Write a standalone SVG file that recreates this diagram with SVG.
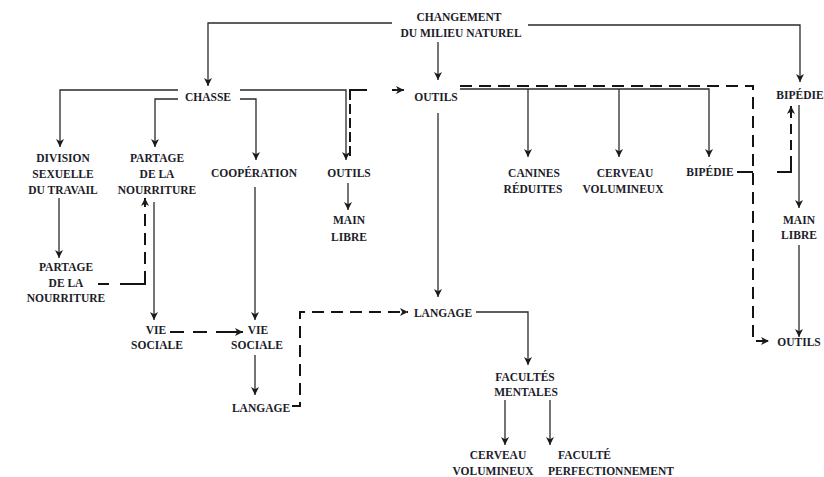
<svg xmlns="http://www.w3.org/2000/svg" width="824" height="477" viewBox="0 0 824 477">
  <defs>
    <marker id="arrow" markerUnits="userSpaceOnUse" markerWidth="9" markerHeight="9" refX="8" refY="4" orient="auto">
      <path d="M0,0 L8,4 L0,8 L2.2,4 z" fill="#1a1a1a"/>
    </marker>
    <style>
      text { font-family: "Liberation Serif", "Times New Roman", serif; font-size: 11.5px; font-weight: bold; fill: #1c1c2a; text-anchor: middle; }
      .solid { fill: none; stroke: #2a2a2a; stroke-width: 1.3; }
      .dash { fill: none; stroke: #141414; stroke-width: 2; stroke-dasharray: 12 7; }
      .arr { marker-end: url(#arrow); }
    </style>
  </defs>
  <rect width="824" height="477" fill="#ffffff"/>

  <!-- connectors -->
  <g id="connectors">
    <!-- from CHANGEMENT DU MILIEU NATUREL -->
    <path class="solid arr" d="M392,23 H208 V86"/>
    <path class="solid arr" d="M528,25 H800 V82"/>
    <path class="solid arr" d="M438,42 V80"/>

    <!-- from CHASSE -->
    <path class="solid arr" d="M178,90 H60 V147"/>
    <path class="solid arr" d="M178,99 H155 V147"/>
    <path class="solid arr" d="M240,99 H256 V160"/>
    <path class="solid arr" d="M240,90 H346 V160"/>
    <path class="dash" style="stroke-dasharray: 10 4 10 4 10 4 10 4 27 25 12" d="M350,156 V90 H404"/>
    <path class="solid arr" style="stroke-width:1.6" d="M396,90 H404"/>

    <!-- from OUTILS (top) -->
    <path class="dash arr" d="M460,86 H753 V341 H769"/>
    <path class="solid arr" d="M460,89 H709 V157"/>
    <path class="solid arr" d="M528,89 V157"/>
    <path class="solid arr" d="M619,89 V157"/>
    <path class="solid arr" d="M438,113 V297"/>

    <!-- BIPÉDIE column -->
    <path class="dash arr" style="stroke-dasharray: 16 24 30 6 10 6 10 6 12" d="M737,172 H791 V106"/>
    <path class="solid arr" d="M799,105 V208"/>
    <path class="solid arr" d="M799,245 V337"/>

    <!-- left branches -->
    <path class="solid arr" d="M59,198 V258"/>
    <path class="dash arr" style="stroke-dasharray: 11 11 38 7 12 7 12 7 12 7 9" d="M98,284 H145 V198"/>
    <path class="solid arr" d="M154,202 V320"/>
    <path class="dash arr" style="stroke-dasharray: 14 9 14 9 27" d="M170,332 H243"/>
    <path class="solid arr" d="M255,187 V320"/>
    <path class="solid arr" d="M255,355 V395"/>
    <path class="solid arr" d="M348,183 V210"/>
    <path class="dash arr" d="M292,406 H300 V312 H408"/>

    <!-- LANGAGE and FACULTÉS MENTALES -->
    <path class="solid arr" d="M476,312 H528 V365"/>
    <path class="solid arr" d="M505,400 V445"/>
    <path class="solid arr" d="M550,400 V445"/>
  </g>

  <!-- nodes -->
  <g id="changement">
    <text x="459" y="21">CHANGEMENT</text>
    <text x="461" y="37">DU MILIEU NATUREL</text>
  </g>
  <g id="chasse"><text x="208" y="101">CHASSE</text></g>
  <g id="outils-top"><text x="436" y="101">OUTILS</text></g>
  <g id="bipedie-right"><text x="800" y="99">BIPÉDIE</text></g>

  <g id="division">
    <text x="63" y="162">DIVISION</text>
    <text x="63" y="178">SEXUELLE</text>
    <text x="63" y="194">DU TRAVAIL</text>
  </g>
  <g id="partage-top">
    <text x="157" y="162">PARTAGE</text>
    <text x="157" y="178">DE LA</text>
    <text x="157" y="194">NOURRITURE</text>
  </g>
  <g id="cooperation"><text x="254" y="177">COOPÉRATION</text></g>
  <g id="outils-chasse"><text x="349" y="177">OUTILS</text></g>
  <g id="main-libre-left">
    <text x="349" y="224">MAIN</text>
    <text x="349" y="241">LIBRE</text>
  </g>

  <g id="canines">
    <text x="534" y="177">CANINES</text>
    <text x="533" y="193">RÉDUITES</text>
  </g>
  <g id="cerveau-top">
    <text x="625" y="177">CERVEAU</text>
    <text x="623" y="193">VOLUMINEUX</text>
  </g>
  <g id="bipedie-mid"><text x="710" y="176">BIPÉDIE</text></g>
  <g id="main-libre-right">
    <text x="799" y="224">MAIN</text>
    <text x="799" y="239">LIBRE</text>
  </g>
  <g id="outils-right"><text x="799" y="346">OUTILS</text></g>

  <g id="partage-bottom">
    <text x="66" y="271">PARTAGE</text>
    <text x="66" y="287">DE LA</text>
    <text x="66" y="302">NOURRITURE</text>
  </g>
  <g id="vie-sociale-1">
    <text x="156" y="334">VIE</text>
    <text x="157" y="349">SOCIALE</text>
  </g>
  <g id="vie-sociale-2">
    <text x="258" y="334">VIE</text>
    <text x="257" y="349">SOCIALE</text>
  </g>
  <g id="langage-left"><text x="261" y="412">LANGAGE</text></g>
  <g id="langage-mid"><text x="443" y="317">LANGAGE</text></g>

  <g id="facultes-mentales">
    <text x="525" y="381">FACULTÉS</text>
    <text x="526" y="396">MENTALES</text>
  </g>
  <g id="cerveau-bottom">
    <text x="498" y="459">CERVEAU</text>
    <text x="493" y="475">VOLUMINEUX</text>
  </g>
  <g id="faculte">
    <text x="558" y="459" style="text-anchor:start">FACULTÉ</text>
    <text x="548" y="475" style="text-anchor:start">PERFECTIONNEMENT</text>
  </g>
</svg>
